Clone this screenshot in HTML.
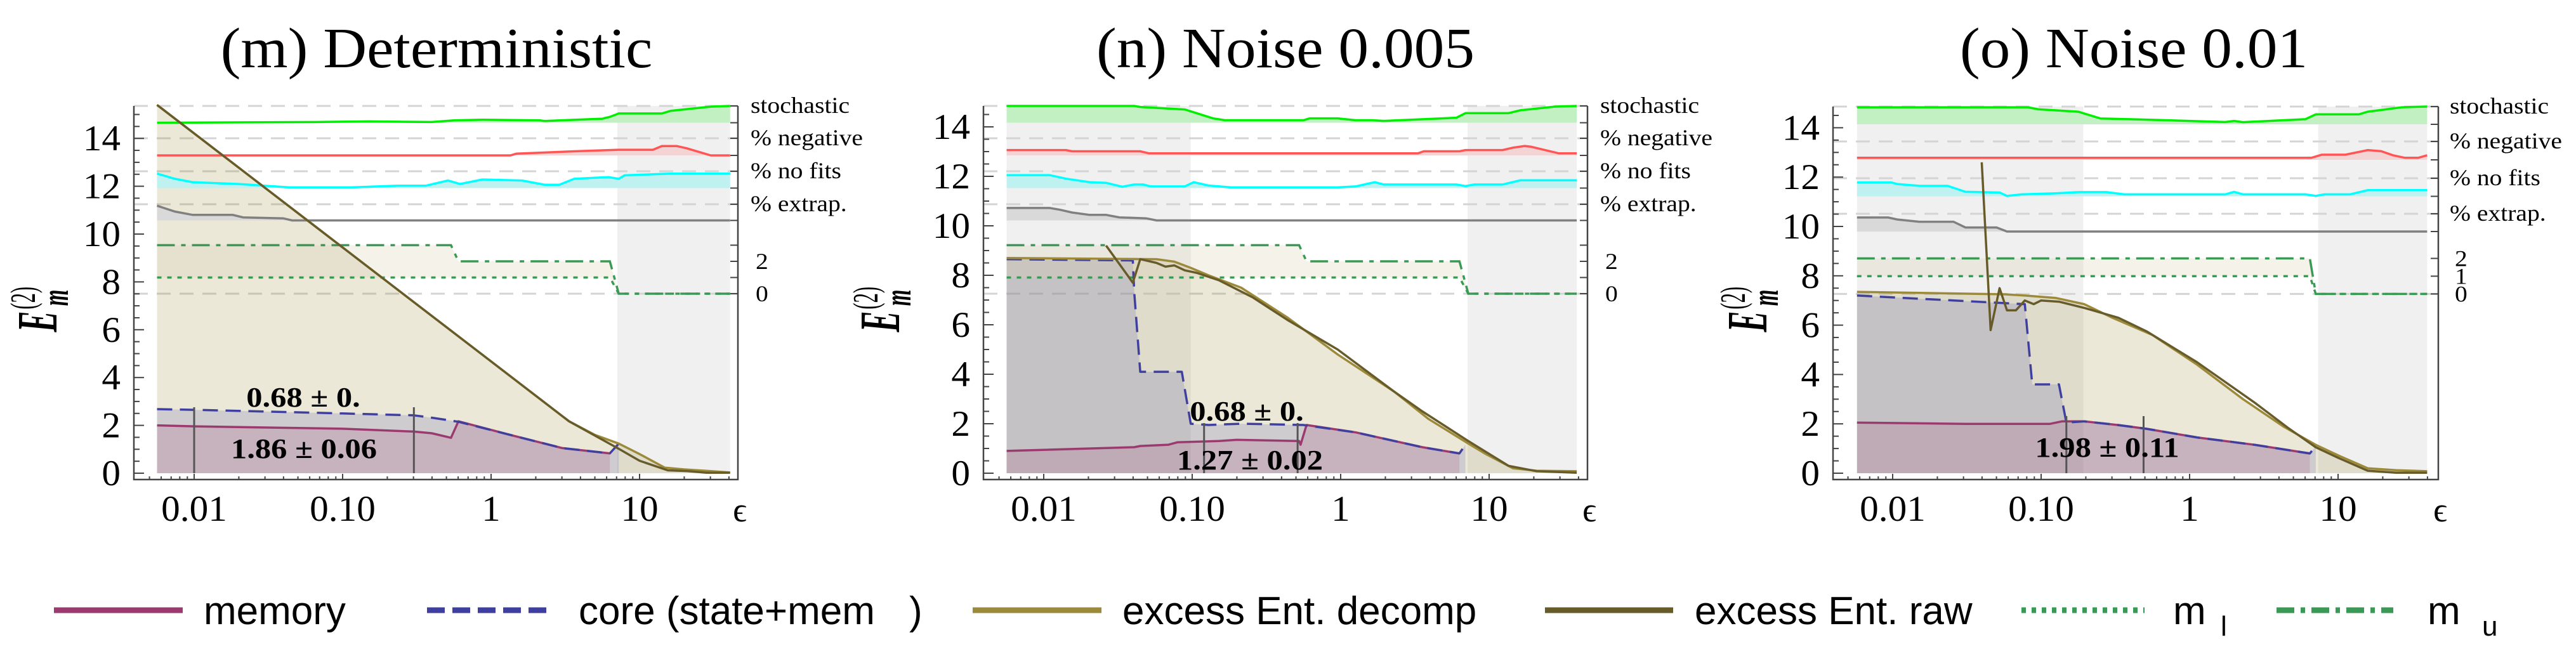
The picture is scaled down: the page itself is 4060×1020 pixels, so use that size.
<!DOCTYPE html>
<html><head><meta charset="utf-8"><style>
html,body{margin:0;padding:0;background:#fff;}
svg{display:block;}
</style></head><body>
<svg id="fig" xmlns="http://www.w3.org/2000/svg" width="4060" height="1020" viewBox="0 0 4060 1020"></svg>
<script>
// ===== DATA (log10 of epsilon, values) =====
// Panel m: Deterministic
const p1RawLog=[-2.25,0.525,0.86,1.0,1.19,1.32,1.45,1.61];
const p1RawVal=[15.4,2.17,1.02,0.52,0.12,0.09,0.02,0.02];
const p1DecLog=[-2.25,0.525,0.7,0.86,1.0,1.17,1.3,1.45,1.61];
const p1DecVal=[15.4,2.17,1.6,1.24,0.8,0.23,0.16,0.1,0.03];
const p1CoreLog=[-2.25,-2.0,-1.0,-0.52,-0.40,-0.22,0.13,0.48,0.80,0.86];
const p1CoreVal=[2.68,2.65,2.5,2.42,2.32,2.15,1.6,1.05,0.83,1.24];
const p1MemLog=[-2.25,-2.0,-1.0,-0.52,-0.40,-0.27,-0.22,0.13,0.48,0.80];
const p1MemVal=[2.0,1.96,1.86,1.74,1.67,1.48,2.17,1.6,1.05,0.83];
const p1StoLog=[-2.25,-1.17,-0.82,-0.40,-0.25,-0.06,0.33,0.36,0.75,0.80,0.86,1.15,1.21,1.48,1.61];
const p1StoPct=[0,4,8,4,14,18,14,10,24,35,55,55,71,96,100];
const p1NegLog=[-2.25,0.13,0.17,0.56,0.86,1.09,1.15,1.25,1.32,1.48,1.61];
const p1NegPct=[0,0,10,24,33,33,55,55,41,0,0];
const p1NofLog=[-2.25,-2.13,-2.01,-1.70,-1.36,-0.94,-0.63,-0.44,-0.29,-0.21,-0.06,0.21,0.36,0.46,0.56,0.79,0.86,0.90,1.21,1.61];
const p1NofPct=[86,55,35,24,4,4,14,14,45,24,51,45,20,20,55,65,55,76,86,86];
const p1ExtLog=[-2.25,-2.13,-2.01,-1.74,-1.67,-1.40,-1.34,1.61];
const p1ExtPct=[91,55,34,34,19,13,0,0];
const p1MuLog=[-2.25,-0.27,-0.22,0.80,0.86,1.61];
const p1MuVal=[3,3,2,2,0,0];
const p1MlLog=[-2.25,0.80,0.86,1.61];
const p1MlVal=[1,1,0,0];
const p1Fit=[-2.0,-0.52];
const p1Labels=["0.68 ± 0.","1.86 ± 0.06"];

// Panel n: Noise 0.005
const p2RawLog=[-1.58,-1.40,-1.35,-1.24,-1.18,-1.12,-1.05,-0.97,-0.82,-0.59,-0.36,-0.02,0.36,0.55,0.86,1.13,1.32,1.59];
const p2RawVal=[9.2,7.7,8.65,8.5,8.35,8.4,8.2,8.1,7.8,7.1,6.2,5.0,3.3,2.5,1.3,0.3,0.08,0.02];
const p2DecLog=[-2.25,-1.24,-1.12,-1.01,-0.89,-0.67,-0.36,-0.02,0.36,0.59,0.86,0.97,1.16,1.32,1.59];
const p2DecVal=[8.7,8.65,8.55,8.3,8.0,7.5,6.3,4.8,3.3,2.2,1.2,0.8,0.2,0.1,0.08];
const p2CoreLog=[-2.25,-1.40,-1.39,-1.35,-1.07,-1.01,-0.89,-0.67,-0.25,0.10,0.55,0.80,0.84];
const p2CoreVal=[8.65,8.6,7.3,4.1,4.1,2.0,1.95,2.0,1.95,1.65,1.05,0.8,1.15];
const p2MemLog=[-2.25,-1.39,-1.35,-1.16,-1.10,-0.82,-0.70,-0.28,-0.27,-0.23,0.10,0.55,0.80];
const p2MemVal=[0.9,1.05,1.1,1.15,1.25,1.3,1.35,1.3,1.15,1.95,1.65,1.05,0.8];
const p2StoLog=[-2.25,-1.39,-1.35,-1.05,-0.97,-0.86,-0.78,-0.25,-0.21,-0.02,0.10,0.21,0.29,0.78,0.84,1.13,1.21,1.44,1.59];
const p2StoPct=[100,100,94,79,57,26,15,15,26,26,15,15,11,30,57,57,74,96,100];
const p2NegLog=[-2.25,-1.85,-1.81,-1.35,-1.29,0.52,0.56,0.80,0.84,1.09,1.16,1.24,1.28,1.47,1.59];
const p2NegPct=[31,31,24,24,12,12,24,24,31,31,45,55,51,12,12];
const p2NofLog=[-2.25,-1.96,-1.85,-1.69,-1.58,-1.47,-1.39,-1.33,-1.28,-1.05,-0.99,-0.89,-0.74,-0.02,0.10,0.23,0.29,0.78,0.84,0.90,1.09,1.21,1.59];
const p2NofPct=[77,77,56,35,31,8,21,21,10,10,35,15,4,4,10,35,21,21,12,21,21,46,46];
const p2ExtLog=[-2.25,-1.96,-1.89,-1.81,-1.69,-1.58,-1.49,-1.31,-1.24,1.59];
const p2ExtPct=[77,77,66,49,34,34,19,13,0,0];
const p2MuLog=[-2.25,-0.28,-0.23,0.80,0.86,1.59];
const p2MuVal=[3,3,2,2,0,0];
const p2MlLog=[-2.25,0.80,0.86,1.59];
const p2MlVal=[1,1,0,0];
const p2Fit=[-0.92,-0.29];
const p2Labels=["0.68 ± 0.","1.27 ± 0.02"];

// Panel o: Noise 0.01
const p3RawLog=[-1.40,-1.34,-1.28,-1.23,-1.17,-1.11,-1.05,-1.00,-0.88,-0.71,-0.48,-0.29,0.05,0.44,0.66,0.85,1.01,1.20,1.39,1.60];
const p3RawVal=[12.6,5.8,7.5,6.6,6.6,7.0,6.85,7.0,6.95,6.7,6.3,5.75,4.5,2.85,1.85,1.05,0.6,0.1,0.02,0.02];
const p3DecLog=[-2.24,-1.24,-1.11,-0.90,-0.71,-0.52,-0.25,0.05,0.36,0.63,0.85,1.01,1.20,1.39,1.60];
const p3DecVal=[7.35,7.25,7.2,7.1,6.85,6.3,5.6,4.4,3.0,1.9,1.15,0.7,0.2,0.12,0.08];
const p3CoreLog=[-2.24,-1.11,-1.06,-0.88,-0.83,-0.71,-0.48,-0.29,0.05,0.44,0.81,0.85];
const p3CoreVal=[7.2,6.85,3.6,3.6,2.05,2.1,1.95,1.8,1.45,1.15,0.8,1.1];
const p3MemLog=[-2.24,-1.51,-0.94,-0.86,-0.71,-0.48,-0.29,0.05,0.44,0.81];
const p3MemVal=[2.05,2.0,2.0,2.1,2.1,1.95,1.8,1.45,1.15,0.8];
const p3StoLog=[-2.24,-1.09,-1.02,-0.75,-0.60,-0.33,-0.14,0.24,0.30,0.36,0.78,0.85,1.14,1.20,1.43,1.60];
const p3StoPct=[96,96,85,71,33,27,23,13,19,12,29,56,56,71,96,100];
const p3NegLog=[-2.24,0.82,0.89,1.05,1.20,1.29,1.37,1.45,1.54,1.60];
const p3NegPct=[11,11,28,28,53,47,25,11,11,25];
const p3NofLog=[-2.24,-2.01,-1.97,-1.82,-1.63,-1.51,-1.28,-1.23,-1.13,-0.90,-0.75,-0.56,-0.44,0.24,0.30,0.36,0.78,0.85,0.91,1.08,1.20,1.60];
const p3NofPct=[77,77,68,58,58,25,21,2,11,17,23,23,11,11,25,11,11,2,11,11,34,34];
const p3ExtLog=[-2.24,-2.03,-1.97,-1.82,-1.59,-1.51,-1.30,-1.23,1.60];
const p3ExtPct=[79,79,68,55,55,23,23,0,0];
const p3MuLog=[-2.24,0.81,0.85,1.60];
const p3MuVal=[2,2,0,0];
const p3MlLog=[-2.24,0.81,0.85,1.60];
const p3MlVal=[1,1,0,0];
const p3Fit=[-0.83,-0.31];
const p3Labels=["1.98 ± 0.11"];

const xTickLog=[-2,-1,0,1];
const xTickText=["0.01","0.10","1","10"];
const yTickVals=[0,2,4,6,8,10,12,14];
const rowNames=["stochastic","% negative","% no fits","% extrap."];

// ===== LAYOUT =====
const NS="http://www.w3.org/2000/svg";
const svg=document.getElementById('fig');
function el(tag,attrs,parent){const e=document.createElementNS(NS,tag);for(const k in attrs)e.setAttribute(k,attrs[k]);(parent||svg).appendChild(e);return e;}
const SERIF='"Liberation Serif", serif';
function stext(parent,x,y,str,size,anchor,sx,weight){
  const t=el('text',{transform:`translate(${x},${y}) scale(${sx},1)`,'font-family':SERIF,'font-size':size,'text-anchor':anchor,fill:'#000','font-weight':weight||'normal'},parent);
  t.textContent=str;return t;
}
const panels=[
 {id:'m',title:'(m) Deterministic',tx:688,x01:306,fl:211,fr:1163,unit:37.7,bands:[[0.85,1.61]],rows:[[167,193.5],[218,245],[270,296.5],[322,347.5]],mZ:463,mUnit:25.5,mTicks:[0,1,2,3],mLab:[[2,'2'],[0,'0']],lx:1183,ylx:89,
  raw:[p1RawLog,p1RawVal],dec:[p1DecLog,p1DecVal],core:[p1CoreLog,p1CoreVal],mem:[p1MemLog,p1MemVal],
  ind:[[p1StoLog,p1StoPct],[p1NegLog,p1NegPct],[p1NofLog,p1NofPct],[p1ExtLog,p1ExtPct]],mu:[p1MuLog,p1MuVal],ml:[p1MlLog,p1MlVal],fit:p1Fit,labels:p1Labels,labPos:[[478,626],[479,707]],fitTop:642},
 {id:'n',title:'(n) Noise 0.005',tx:2026,x01:1645,fl:1550,fr:2502,unit:39.0,bands:[[-2.25,-1.01],[0.855,1.59]],rows:[[167,193.5],[218,245],[270,296.5],[322,347.5]],mZ:463,mUnit:25.5,mTicks:[0,1,2,3],mLab:[[2,'2'],[0,'0']],lx:2522,ylx:78,
  raw:[p2RawLog,p2RawVal],dec:[p2DecLog,p2DecVal],core:[p2CoreLog,p2CoreVal],mem:[p2MemLog,p2MemVal],
  ind:[[p2StoLog,p2StoPct],[p2NegLog,p2NegPct],[p2NofLog,p2NofPct],[p2ExtLog,p2ExtPct]],mu:[p2MuLog,p2MuVal],ml:[p2MlLog,p2MlVal],fit:p2Fit,labels:p2Labels,labPos:[[1965,648],[1970,725]],fitTop:667},
 {id:'o',title:'(o) Noise 0.01',tx:3363,x01:2983,fl:2889,fr:3843,unit:38.9,bands:[[-2.24,-0.716],[0.866,1.60]],rows:[[168,196],[223,252],[281,309.5],[337,365]],mZ:463.4,mUnit:28,mTicks:[0,1,2],mLab:[[2,'2'],[1,'1'],[0,'0']],lx:3861,ylx:106,
  raw:[p3RawLog,p3RawVal],dec:[p3DecLog,p3DecVal],core:[p3CoreLog,p3CoreVal],mem:[p3MemLog,p3MemVal],
  ind:[[p3StoLog,p3StoPct],[p3NegLog,p3NegPct],[p3NofLog,p3NofPct],[p3ExtLog,p3ExtPct]],mu:[p3MuLog,p3MuVal],ml:[p3MlLog,p3MlVal],fit:p3Fit,labels:p3Labels,labPos:[[3321,705]],fitTop:656}
];
const Y0=746, FB=756, DEC=234;
const indLine=['#00ee00','#ff5555','#00ffff','#808080'];
const indFill=['#c2f0c2','#f3d3d3','#bff1f1','#d9d9d9'];
const indName=['stochastic','negative','no-fits','extrapolated'];

panels.forEach(p=>{
  const g=el('g',{});
  
  
  const X=lg=>p.x01+(lg+2)*DEC;
  const Y=v=>Y0-v*p.unit;
  const MY=v=>p.mZ-v*p.mUnit;
  const ft=p.rows[0][0];
  const pts=(L,V,fy)=>L.map((l,i)=>X(l).toFixed(1)+','+fy(V[i]).toFixed(1)).join(' ');
  // title
  const t=stext(g,p.tx,106,p.title,90,'middle',1.06);
  
  // grey bands
  p.bands.forEach(b=>{const r=el('rect',{x:X(b[0]),y:ft,width:X(b[1])-X(b[0]),height:Y0-ft,fill:'#f0f0f0'},g);
    });
  // dashed gridlines
  p.rows.map(r=>r[0]).concat([p.mZ]).forEach(y=>{const l=el('line',{x1:p.fl,x2:p.fr,y1:y,y2:y,stroke:'#d4d4d4','stroke-width':3,'stroke-dasharray':'22 14'},g);
    });
  // main fills
  const fill=(d,c,name)=>{const L=d[0],V=d[1];
    const poly=pts(L,V,Y)+' '+X(L[L.length-1]).toFixed(1)+','+Y0+' '+X(L[0]).toFixed(1)+','+Y0;
    const e=el('polygon',{points:poly,fill:c},g);};
  fill(p.dec,'rgba(156,138,58,0.2)','excess-fill');
  fill(p.core,'rgba(63,63,160,0.17)','core-fill');
  fill(p.mem,'rgba(158,58,110,0.17)','memory-fill');
  // indicator rows
  p.ind.forEach((d,i)=>{const top=p.rows[i][0],base=p.rows[i][1];
    const fy=v=>base-v/100*(base-top);
    const L=d[0];
    const poly=pts(L,d[1],fy)+' '+X(L[L.length-1]).toFixed(1)+','+base+' '+X(L[0]).toFixed(1)+','+base;
    const f=el('polygon',{points:poly,fill:indFill[i]},g);
    
    const ln=el('polyline',{points:pts(L,d[1],fy),fill:'none',stroke:indLine[i],'stroke-width':3.5},g);
    
  });
  // m band
  {const Lu=p.mu[0],Ll=p.ml[0];
   const poly=pts(Lu,p.mu[1],MY)+' '+Ll.slice().reverse().map((l,i)=>X(l).toFixed(1)+','+MY(p.ml[1][Ll.length-1-i]).toFixed(1)).join(' ');
   const f=el('polygon',{points:poly,fill:'rgba(220,210,180,0.28)'},g);
   
   const a=el('polyline',{points:pts(Ll,p.ml[1],MY),fill:'none',stroke:'#3a9a55','stroke-width':3.5,'stroke-dasharray':'7 9'},g);
   
   const b=el('polyline',{points:pts(Lu,p.mu[1],MY),fill:'none',stroke:'#3a9a55','stroke-width':3.5,'stroke-dasharray':'28 10 7 10'},g);
   }
  // main lines
  const line=(d,c,w,dash,name)=>{const a={points:pts(d[0],d[1],Y),fill:'none',stroke:c,'stroke-width':w,'stroke-linejoin':'round'};if(dash)a['stroke-dasharray']=dash;
    const e=el('polyline',a,g);};
  line(p.mem,'#9b3a6e',3.5,null,'memory-line');
  line(p.core,'#3f3fa0',3.5,'24 12','core-line');
  line(p.dec,'#9c8a3a',3.5,null,'excess-decomp-line');
  line(p.raw,'#675b2a',3.5,null,'excess-raw-line');
  // fit range lines
  p.fit.forEach(f=>{const l=el('line',{x1:X(f),x2:X(f),y1:p.fitTop,y2:Y0,stroke:'#555','stroke-width':3},g);
    });
  p.labels.forEach((s,i)=>{const tt=stext(g,p.labPos[i][0],p.labPos[i][1]+15,s,44,'middle',1.15,'bold');
    });
  // axes
  const ax=el('path',{d:`M${p.fl},${ft} V${FB} H${p.fr} V${ft}`,fill:'none',stroke:'#444','stroke-width':2.5},g);
  
  for(let v=0;v<=Math.floor((Y0-ft)/p.unit*2)/2;v+=0.5){const maj=v%2===0;
    const tk=el('line',{x1:p.fl,x2:p.fl+(maj?16:9),y1:Y(v),y2:Y(v),stroke:'#444','stroke-width':2},g);
    }
  yTickVals.forEach(v=>{const tt=stext(g,p.fl-21,Y(v)+19,String(v),57,'end',1.04);
    });
  for(let d=-3;d<=1;d++)for(let k=1;k<10;k++){const lg=d+Math.log10(k);const x=X(lg);if(x<p.fl+2||x>p.fr-2)continue;
    const tk=el('line',{x1:x,x2:x,y1:FB,y2:FB-(k===1?9:5),stroke:'#444','stroke-width':2},g);
    }
  xTickLog.forEach((l,i)=>{const tt=stext(g,X(l),821,xTickText[i],57,'middle',1.04);
    });
  const ep=stext(g,p.fr+3,822,'ϵ',54,'middle',1.0);
  
  // right ticks & labels
  p.rows.forEach((r,i)=>{[r[0],r[1]].forEach(y=>{const tk=el('line',{x1:p.fr-12,x2:p.fr,y1:y,y2:y,stroke:'#444','stroke-width':2},g);
      });
    const tt=stext(g,p.lx,r[0]+11,rowNames[i],36,'start',1.1);
    });
  p.mTicks.forEach(v=>{const tk=el('line',{x1:p.fr-12,x2:p.fr,y1:MY(v),y2:MY(v),stroke:'#444','stroke-width':2},g);
    });
  p.mLab.forEach(m=>{const tt=stext(g,p.lx+8,MY(m[0])+12,m[1],36,'start',1.1);
    });
  // y-axis title
  const yt=el('text',{transform:`translate(${p.fl-211+p.ylx},474) rotate(-90) scale(0.55,1)`,'font-family':SERIF,'font-size':90,'font-weight':'bold','font-style':'italic','text-anchor':'start'},g);
  
  yt.innerHTML='<tspan x="-90" y="0">E</tspan><tspan x="-25" y="-34" font-size="56" font-style="normal" font-weight="normal">(2)</tspan><tspan x="-15" y="18" font-size="60">m</tspan>';
});

// ===== LEGEND =====
const LY=962;
const lg=el('g',{});


const legendItems=[
 {x1:85,x2:288,c:'#9b3a6e',dash:null,tx:321,txt:'memory',name:'legend-memory'},
 {x1:673,x2:862,c:'#3f3fa0',dash:'28 12',tx:912,txt:'core (state+mem',name:'legend-core'},
 {x1:1533,x2:1736,c:'#9c8a3a',dash:null,tx:1769,txt:'excess Ent. decomp',name:'legend-excess-decomp'},
 {x1:2435,x2:2637,c:'#675b2a',dash:null,tx:2671,txt:'excess Ent. raw',name:'legend-excess-raw'},
 {x1:3186,x2:3380,c:'#3a9a55',dash:'7 9',tx:3425,txt:'m',name:'legend-m-lower'},
 {x1:3588,x2:3772,c:'#3a9a55',dash:'28 10 7 10',tx:3826,txt:'m',name:'legend-m-upper'}];
legendItems.forEach(it=>{
  const gi=el('g',{},lg);
  
  
  const a={x1:it.x1,x2:it.x2,y1:LY,y2:LY,stroke:it.c,'stroke-width':9};if(it.dash)a['stroke-dasharray']=it.dash;
  const l=el('line',a,gi);
  
  
  const t=el('text',{x:it.tx,y:LY+22,'font-family':'"Liberation Sans", sans-serif','font-size':62,fill:'#000'},gi);
  
  
  t.textContent=it.txt;
});
const extras=[[1433,LY+22,62,')'],[3500,LY+40,44,'l'],[3912,LY+40,44,'u']];
extras.forEach(e=>{const t=el('text',{x:e[0],y:e[1],'font-family':'"Liberation Sans", sans-serif','font-size':e[2],fill:'#000'},lg);
  
  
  t.textContent=e[3];});
</script>
</body></html>
